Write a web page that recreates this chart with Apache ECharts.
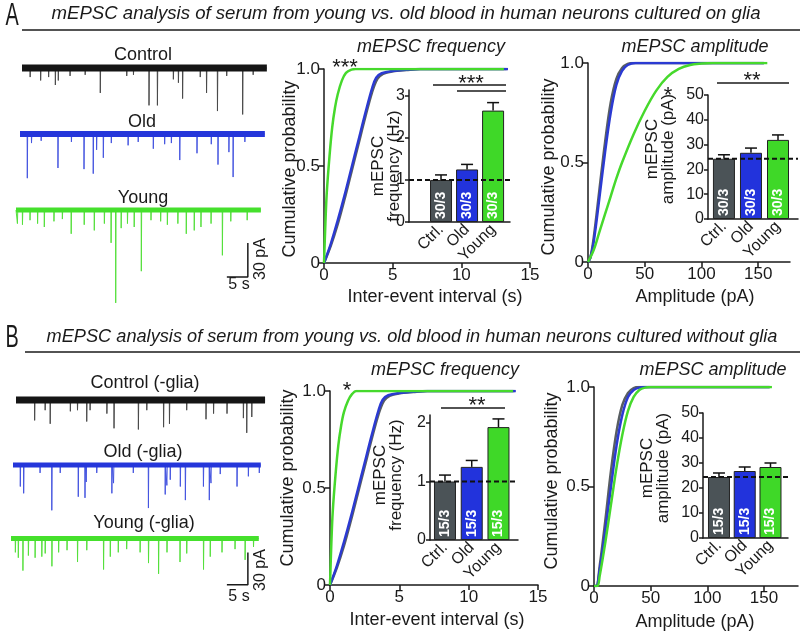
<!DOCTYPE html>
<html><head><meta charset="utf-8">
<script src="https://cdn.jsdelivr.net/npm/echarts@6/dist/echarts.min.js"></script>
<style>html,body{margin:0;padding:0;background:#fff}#c{width:800px;height:635px}</style>
</head><body><div id="c"></div><script>
// ---------------- DATA ----------------
const groups = ['Ctrl.', 'Old', 'Young'];
const nLabelsA = ['30/3', '30/3', '30/3'];
const nLabelsB = ['15/3', '15/3', '15/3'];
// inset bar values (mean, SEM)
const freqA = [1.0, 1.25, 2.65];   const freqErrA = [0.12, 0.12, 0.19];
const ampA  = [24.3, 26.7, 31.9];  const ampErrA  = [1.6, 1.9, 2.0];
const freqB = [1.0, 1.25, 1.93];   const freqErrB = [0.11, 0.11, 0.14];
const ampB  = [24.4, 26.8, 28.4];  const ampErrB  = [1.6, 1.6, 1.6];
// cumulative distributions [x, probability]
const cdfFreqA_ctrl  = [[0,0],[0.5,0.09],[1,0.2],[1.5,0.33],[2,0.47],[2.5,0.61],[3,0.75],[3.5,0.88],[3.9,0.95],[4.3,0.975],[5,0.988],[6,0.995],[7,1],[13.3,1]];
const cdfFreqA_old   = [[0,0],[0.5,0.1],[1,0.22],[1.5,0.35],[2,0.49],[2.5,0.63],[3,0.77],[3.5,0.9],[3.8,0.955],[4.2,0.978],[5,0.99],[6,0.996],[7,1],[13.4,1]];
const cdfFreqA_young = [[0,0],[0.1,0.2],[0.2,0.36],[0.4,0.55],[0.6,0.7],[0.8,0.8],[1,0.87],[1.3,0.94],[1.6,0.98],[2,0.997],[2.3,1],[13.1,1]];
const cdfAmpA_ctrl   = [[0,0],[2,0.02],[5,0.12],[10,0.36],[15,0.6],[20,0.8],[25,0.92],[30,0.975],[35,0.995],[40,1],[155,1]];
const cdfAmpA_old    = [[0,0],[2,0.02],[5,0.1],[10,0.32],[15,0.55],[20,0.75],[25,0.89],[30,0.96],[35,0.99],[42,1],[155,1]];
const cdfAmpA_young  = [[0,0],[5,0.06],[10,0.15],[15,0.24],[20,0.33],[25,0.42],[30,0.5],[40,0.64],[50,0.76],[60,0.86],[70,0.93],[80,0.97],[90,0.99],[100,0.997],[110,1],[158,1]];
const cdfFreqB_ctrl  = [[0,0],[0.5,0.09],[1,0.2],[1.5,0.33],[2,0.47],[2.5,0.61],[3,0.75],[3.5,0.88],[3.9,0.95],[4.3,0.975],[5,0.988],[6,0.995],[7,1],[13.3,1]];
const cdfFreqB_old   = [[0,0],[0.5,0.1],[1,0.22],[1.5,0.35],[2,0.49],[2.5,0.63],[3,0.77],[3.5,0.9],[3.8,0.955],[4.2,0.978],[5,0.99],[6,0.996],[7,1],[13.4,1]];
const cdfFreqB_young = [[0,0],[0.1,0.22],[0.2,0.38],[0.4,0.57],[0.6,0.72],[0.8,0.82],[1,0.89],[1.3,0.95],[1.6,0.985],[1.9,1],[13.2,1]];
const cdfAmpB_ctrl   = [[0,0],[2,0],[5,0.1],[10,0.33],[15,0.58],[20,0.78],[25,0.91],[30,0.97],[35,0.995],[40,1],[155,1]];
const cdfAmpB_old    = [[0,0],[2,0],[5,0.08],[10,0.28],[15,0.5],[20,0.71],[25,0.86],[30,0.95],[35,0.985],[40,0.997],[45,1],[155,1]];
const cdfAmpB_young  = [[0,0],[3,0],[5,0.05],[10,0.22],[15,0.41],[20,0.6],[25,0.76],[30,0.88],[35,0.95],[40,0.985],[45,0.997],[50,1],[157,1]];
// example traces: mEPSC events [time s, amplitude pA]
const traceA_ctrl  = [[1.9,8],[4.4,11],[6.3,8],[7.9,15],[8.6,11],[11.4,7],[15,6],[18.6,22],[24.9,7],[26.5,6],[30.2,33],[32.2,33],[36,10],[37.2,13],[38.2,27],[42.4,8],[43.9,22],[46.5,38],[48.7,7],[52.5,41],[55,6]];
const traceA_old   = [[1.7,39],[2.7,8],[5,6],[9,30],[12.2,7],[15.2,31],[17.4,35],[18.2,14],[19.8,21],[21.7,8],[25.7,10],[28.1,7],[31.7,13],[34.4,9],[36,8],[38,23],[42.1,17],[45.5,9],[47.1,27],[49.7,16],[50.7,38],[53.5,7]];
const traceA_young = [[0.3,12],[1.5,13],[3.3,9],[5.1,12],[6.7,15],[9,10],[11,8],[13.1,21],[16.2,13],[18.6,18],[21,12],[22.6,29],[23.7,82],[25,16],[26.5,12],[28.1,15],[29.8,54],[32.1,9],[34.4,10],[36,13],[38.5,12],[40.5,21],[42.4,18],[44,15],[46.4,12],[49.1,40],[51.1,10],[55,9]];
const traceB_ctrl  = [[4.4,18],[6.9,9],[8.1,21],[12.9,10],[14.6,9],[16.8,19],[17.6,9],[21.6,12],[23.3,25],[29.1,26],[31.1,9],[35.1,24],[36.5,21],[40.6,9],[45.2,17],[47,12],[50.2,12],[54.1,16],[54.9,29],[56.1,15]];
const traceB_old   = [[1.7,19],[2.5,25],[6.4,7],[9.2,40],[11.2,7],[15.5,28],[17.1,29],[17.4,15],[19.9,7],[23.5,25],[23.9,16],[28.6,7],[32.2,38],[36.2,26],[36.6,18],[37.4,13],[39.8,19],[41,31],[45.3,19],[46.7,31],[47.1,16],[49.3,8],[53.3,19],[56,10],[58.6,7]];
const traceB_young = [[1,13],[1.7,18],[2.8,30],[4.1,16],[5.7,18],[7.3,17],[8.1,14],[9.7,26],[11.3,13],[13.3,11],[15.8,22],[18,11],[22,29],[23.6,17],[25.5,13],[27.5,10],[30.7,13],[32.7,23],[35.1,33],[37.1,13],[40.2,22],[41.8,14],[45.8,29],[47.4,17],[50.2,13],[53.3,10],[55.7,20],[57.7,8]];
// axis tick values
const cumTicks = [0, 0.5, 1];
const freqTicksA = [0, 5, 10, 15];
const ampTicks = [0, 50, 100, 150];
const insetFreqTicksA = [0, 1, 2, 3];
const insetFreqTicksB = [0, 1, 2];
const insetAmpTicks = [0, 10, 20, 30, 40, 50];

// ---------------- STYLE ----------------
const FONT = '"Liberation Sans", Arial, Helvetica, sans-serif';
const INK = '#1a1a1a';
const C_GRAY = '#585e62', C_BLUE = '#2b3ad2', C_GREEN = '#46d92c';
const BAR_COLORS = ['#4b5357', '#2233dc', '#3fd828'];
const PX_S = 4.2, PX_PA = 1.133;

const grids = [], xAxes = [], yAxes = [], series = [], graphic = [];
function addGrid(g, xa, ya) {
  grids.push(g);
  const i = grids.length - 1;
  xAxes.push(Object.assign({ gridIndex: i }, xa));
  yAxes.push(Object.assign({ gridIndex: i }, ya));
  return i;
}
function txt(x, y, text, size, opts) {
  opts = opts || {};
  graphic.push({
    type: 'text', x: x, y: y, rotation: opts.rot || 0, scaleX: opts.sx || 1, z: 100,
    style: { text: text, x: 0, y: 0, font: (opts.style || '') + ' ' + (opts.weight || 'normal') + ' ' + size + 'px ' + FONT,
      fill: opts.fill || INK, align: opts.align || 'center', textAlign: opts.align || 'center',
      verticalAlign: 'middle', textVerticalAlign: 'middle', lineHeight: opts.lh || size }
  });
}
function hline(x1, x2, y, w) {
  graphic.push({ type: 'line', z: 100, shape: { x1: x1, y1: y, x2: x2, y2: y }, style: { stroke: INK, lineWidth: w || 1.5 } });
}

// traces
function addTrace(left, baseline, events, band, spike, bandW, tEnd) {
  const i = addGrid({ left: left, top: baseline - 10 * PX_PA, width: 60 * PX_S, height: 100 * PX_PA },
    { type: 'value', min: 0, max: 60, show: false }, { type: 'value', min: -90, max: 10, show: false });
  const pts = [[0, 0]];
  events.slice().sort((a, b) => a[0] - b[0]).forEach(e => { pts.push([e[0], 0], [e[0] + 0.04, -e[1]], [e[0] + 0.12, 0]); });
  pts.push([tEnd, 0]);
  series.push({ type: 'line', xAxisIndex: i, yAxisIndex: i, data: pts, symbol: 'none', silent: true,
    lineStyle: { color: spike, width: 1 }, z: 2 });
  series.push({ type: 'line', xAxisIndex: i, yAxisIndex: i, data: [[0, 0], [tEnd, 0]], symbol: 'none', silent: true,
    lineStyle: { color: band, width: bandW }, z: 3 });
  return i;
}
function addScaleBar(gi, t0, y0) {
  series.push({ type: 'line', xAxisIndex: gi, yAxisIndex: gi, data: [[t0, y0], [t0 + 5, y0], [t0 + 5, y0 + 30]],
    symbol: 'none', silent: true, lineStyle: { color: INK, width: 1.5 }, z: 4 });
}

// main cumulative plots
function addCum(box, xmax, xticks, curves) {
  const i = addGrid(box,
    { type: 'value', min: 0, max: xmax, axisLine: { onZero: false, lineStyle: { color: INK, width: 1.5 } },
      axisTick: { length: 5, lineStyle: { color: INK, width: 1.5 }, customValues: xticks },
      axisLabel: { customValues: xticks, color: INK, fontSize: 17, fontFamily: FONT, margin: 4 }, splitLine: { show: false } },
    { type: 'value', min: 0, max: 1, axisLine: { show: true, onZero: false, lineStyle: { color: INK, width: 1.5 } },
      axisTick: { show: true, length: 5, lineStyle: { color: INK, width: 1.5 }, customValues: cumTicks },
      axisLabel: { customValues: cumTicks, color: INK, fontSize: 17, fontFamily: FONT, margin: 4,
        formatter: v => v === 0 ? '0' : v.toFixed(1) }, splitLine: { show: false } });
  const cols = [C_GRAY, C_BLUE, C_GREEN];
  curves.forEach((d, k) => series.push({ type: 'line', xAxisIndex: i, yAxisIndex: i, data: d, symbol: 'none', smooth: 0.35,
    silent: true, lineStyle: { color: cols[k], width: 2.5 }, z: 5 + k }));
}

// inset bar charts
function addInset(box, xmin, xmax, ymax, yticks, vals, errs, nlab) {
  const i = addGrid(box,
    { type: 'value', min: xmin, max: xmax, axisLine: { onZero: false, lineStyle: { color: INK, width: 1.5 } },
      axisTick: { show: false }, splitLine: { show: false },
      axisLabel: { customValues: [0, 1, 2], formatter: v => groups[v], rotate: 45, color: INK, fontSize: 16, fontFamily: FONT, margin: 5 } },
    { type: 'value', min: 0, max: ymax, axisLine: { show: true, onZero: false, lineStyle: { color: INK, width: 1.5 } },
      axisTick: { show: true, length: 4, lineStyle: { color: INK, width: 1.5 }, customValues: yticks }, splitLine: { show: false },
      axisLabel: { customValues: yticks, color: INK, fontSize: 16, fontFamily: FONT, margin: 4 } });
  series.push({ type: 'bar', xAxisIndex: i, yAxisIndex: i, barWidth: 22, z: 10, silent: true,
    data: vals.map((v, k) => ({ value: [k, v], itemStyle: { color: BAR_COLORS[k], borderColor: '#222', borderWidth: 1 } })),
    label: { show: true, position: 'insideBottom', rotate: 90, align: 'left', verticalAlign: 'middle', distance: 3,
      formatter: p => nlab[p.dataIndex], color: '#fff', fontWeight: 'bold', fontSize: 14, fontFamily: FONT } });
  series.push({ type: 'custom', xAxisIndex: i, yAxisIndex: i, z: 11, silent: true,
    data: vals.map((v, k) => [k, v, errs[k]]),
    renderItem: (params, api) => {
      const p0 = api.coord([api.value(0), api.value(1)]);
      const p1 = api.coord([api.value(0), api.value(1) + api.value(2)]);
      const st = { stroke: '#111', lineWidth: 1.5 };
      return { type: 'group', children: [
        { type: 'line', shape: { x1: p0[0], y1: p0[1], x2: p1[0], y2: p1[1] }, style: st },
        { type: 'line', shape: { x1: p1[0] - 6, y1: p1[1], x2: p1[0] + 6, y2: p1[1] }, style: st } ] };
    } });
  series.push({ type: 'line', xAxisIndex: i, yAxisIndex: i, z: 12, silent: true, symbol: 'none',
    data: [[xmin, vals[0]], [xmax, vals[0]]], lineStyle: { color: '#111', width: 2, type: [5, 3] } });
}

// ---------- Panel A ----------
txt(12, 16, 'A', 32, { sx: 0.62 });
txt(406, 14, 'mEPSC analysis of serum from young vs. old blood in human neurons cultured on glia', 18.6, { style: 'italic' });
hline(22, 800, 30);
txt(143, 55, 'Control', 18); txt(142, 122, 'Old', 18); txt(143, 198, 'Young', 18);
addTrace(22, 68, traceA_ctrl, '#151515', '#4a4a4a', 7, 58.3);
addTrace(20, 134, traceA_old, '#2536da', '#4555e0', 6, 58.3);
const gYA = addTrace(16, 210, traceA_young, '#45e02c', '#55e03c', 5, 58.3);
addScaleBar(gYA, 50.2, -59.1);
txt(239, 285, '5 s', 16); txt(261, 259, '30 pA', 16, { rot: Math.PI / 2 });

addCum({ left: 324, top: 69, width: 206, height: 194 }, 15, freqTicksA, [cdfFreqA_ctrl, cdfFreqA_old, cdfFreqA_young]);
addCum({ left: 588, top: 63, width: 202, height: 199 }, 178, ampTicks, [cdfAmpA_ctrl, cdfAmpA_old, cdfAmpA_young]);
txt(431, 47, 'mEPSC frequency', 18, { style: 'italic' });
txt(695, 47, 'mEPSC amplitude', 18, { style: 'italic' });
txt(290, 169, 'Cumulative probability', 18, { rot: Math.PI / 2 });
txt(549, 167, 'Cumulative probability', 18, { rot: Math.PI / 2 });
txt(435, 297, 'Inter-event interval (s)', 18);
txt(695, 297, 'Amplitude (pA)', 18);
addInset({ left: 409, top: 90, width: 101, height: 132 }, -1.23, 2.65, 3.14, insetFreqTicksA, freqA, freqErrA, nLabelsA);
addInset({ left: 708, top: 95, width: 90, height: 124 }, -0.59, 2.74, 50, insetAmpTicks, ampA, ampErrA, nLabelsA);
txt(386, 166, 'mEPSC\nfrequency (Hz)', 17, { rot: Math.PI / 2, lh: 16 });
txt(660, 149, 'mEPSC\namplitude (pA)', 17, { rot: Math.PI / 2, lh: 16 });
// significance
txt(345, 68, '***', 22); hline(433, 506, 85); hline(457, 506, 91); txt(471, 84, '***', 22);
hline(717, 789, 83); txt(752, 81, '**', 22); txt(668, 96, '*', 22);

// ---------- Panel B ----------
txt(12, 338, 'B', 32, { sx: 0.62 });
txt(412, 337, 'mEPSC analysis of serum from young vs. old blood in human neurons cultured without glia', 18.2, { style: 'italic' });
hline(25, 800, 352);
txt(145, 383, 'Control (-glia)', 18); txt(143, 452, 'Old (-glia)', 18); txt(144, 523, 'Young (-glia)', 18);
addTrace(16, 400, traceB_ctrl, '#151515', '#4a4a4a', 7, 59.3);
addTrace(13, 465, traceB_old, '#2536da', '#4555e0', 5, 59);
const gYB = addTrace(11, 539, traceB_young, '#45e02c', '#55e03c', 5, 59);
addScaleBar(gYB, 51.4, -43.2);
txt(239, 597, '5 s', 16); txt(261, 570, '30 pA', 16, { rot: Math.PI / 2 });

addCum({ left: 330, top: 391, width: 208, height: 194 }, 15, freqTicksA, [cdfFreqB_ctrl, cdfFreqB_old, cdfFreqB_young]);
addCum({ left: 594, top: 387, width: 204, height: 199 }, 180, ampTicks, [cdfAmpB_ctrl, cdfAmpB_old, cdfAmpB_young]);
txt(445, 370, 'mEPSC frequency', 18, { style: 'italic' });
txt(713, 370, 'mEPSC amplitude', 18, { style: 'italic' });
txt(288, 478, 'Cumulative probability', 18, { rot: Math.PI / 2 });
txt(552, 481, 'Cumulative probability', 18, { rot: Math.PI / 2 });
txt(437, 620, 'Inter-event interval (s)', 18);
txt(695, 622, 'Amplitude (pA)', 18);
addInset({ left: 430, top: 415, width: 88, height: 125 }, -0.56, 2.73, 2.137, insetFreqTicksB, freqB, freqErrB, nLabelsB);
addInset({ left: 703, top: 413, width: 85, height: 125 }, -0.62, 2.68, 50, insetAmpTicks, ampB, ampErrB, nLabelsB);
txt(388, 475, 'mEPSC\nfrequency (Hz)', 17, { rot: Math.PI / 2, lh: 16 });
txt(655, 468, 'mEPSC\namplitude (pA)', 17, { rot: Math.PI / 2, lh: 16 });
txt(347, 391, '*', 22); hline(441, 505, 408); txt(477, 406, '**', 22);

const chart = echarts.init(document.getElementById('c'), null, { renderer: 'canvas' });
chart.setOption({ animation: false, backgroundColor: '#fff', grid: grids, xAxis: xAxes, yAxis: yAxes, series: series, graphic: graphic });
</script></body></html>
